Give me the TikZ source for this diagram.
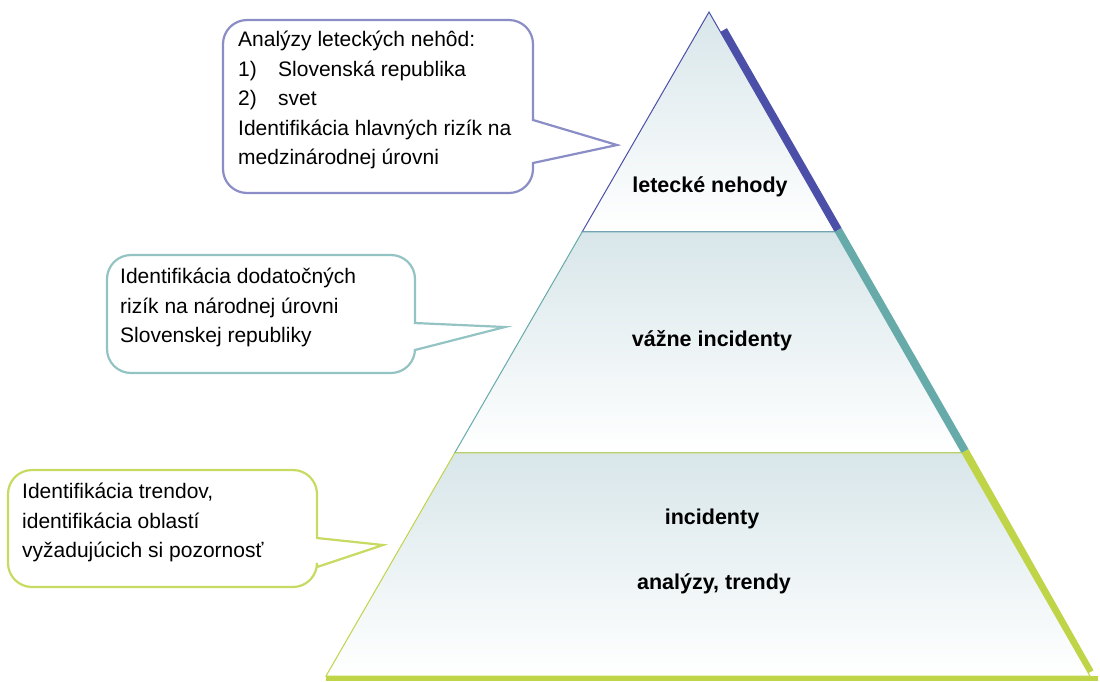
\documentclass[tikz,border=0pt]{standalone}
\usepackage{fontspec}
\setmainfont{Liberation Sans}
\usetikzlibrary{calc}
\definecolor{pyblue}{RGB}{75,79,168}
\definecolor{pyteal}{RGB}{102,170,170}
\definecolor{pylime}{RGB}{192,212,72}
\definecolor{pyfill}{RGB}{216,230,234}

\begin{document}
\begin{tikzpicture}[x=1pt,y=-1pt,
  note/.style={align=left,anchor=north west,inner sep=0pt,font=\fontsize{21}{29.5}\selectfont},
  level/.style={inner sep=1pt,font=\bfseries\fontsize{21.5}{24}\selectfont},
  bubble/.style={line width=2.2pt,fill=white},
  shadowline/.style={line width=15pt},
  section/.style={top color=pyfill,bottom color=white,line width=1pt}]
\useasboundingbox (0,0) rectangle (1100,681);
% pyramid corners and dividers
\coordinate (A) at (709,12);
\coordinate (L) at (326,676);
\coordinate (R) at (1090,676);
\coordinate (L1) at ($(A)!.331!(L)$);
\coordinate (R1) at ($(A)!.331!(R)$);
\coordinate (L2) at ($(A)!.664!(L)$);
\coordinate (R2) at ($(A)!.664!(R)$);
% thick edges behind the pyramid
\begin{scope}[shift={(11,3)}]
  \draw[shadowline,pyblue] ($(A)!.03!(R)$) -- (R1);
  \draw[shadowline,pyteal] (R1) -- (R2);
  \draw[shadowline,pylime] (R2) -- ($(R)+(-3,-2)$);
\end{scope}
\draw[pylime,line width=5pt] ($(L)+(0,2)$) -- ($(R)+(8,2)$);
% the three levels
\draw[section,pyblue] (A) -- (R1) -- (L1) -- cycle;
\draw[section,pyteal] (L1) -- (R1) -- (R2) -- (L2) -- cycle;
\draw[section,pylime] (L2) -- (R2) -- (R) -- (L) -- cycle;
\node[level] (lvtop) at (710,187) {letecké nehody};
\node[level] (lvmid) at (712,341) {vážne incidenty};
\node[level] (lvbot) at (712,519) {incidenty};
\node[level] (lvnote) at (714,584) {analýzy, trendy};
% callouts
\draw[bubble,draw=pyblue!65] (380,20) [rounded corners=24pt] -- (533,20) [sharp corners] -- (533,120)
  -- (617,145) -- (533,163) [rounded corners=24pt] -- (533,193) -- (223,193) -- (223,20) -- cycle;
\node[note] (ntop) at (238,31) {Analýzy leteckých nehôd:\\
  \makebox[40pt][l]{1)}Slovenská republika\\
  \makebox[40pt][l]{2)}svet\\
  Identifikácia hlavných rizík na\\
  medzinárodnej úrovni};
\draw[bubble,draw=pyteal!70] (260,255) [rounded corners=24pt] -- (415,255) [sharp corners] -- (415,323)
  -- (505,327) -- (415,350) [rounded corners=24pt] -- (415,373) -- (107,373) -- (107,255) -- cycle;
\node[note] (nmid) at (120,268) {Identifikácia dodatočných\\
  rizík na národnej úrovni\\
  Slovenskej republiky};
\draw[bubble,draw=pylime!85] (160,470) [rounded corners=24pt] -- (317,470) [sharp corners] -- (317,538)
  -- (383,545) -- (317,567) [rounded corners=24pt] -- (317,587) -- (8,587) -- (8,470) -- cycle;
\node[note] (nbot) at (22,483) {Identifikácia trendov,\\
  identifikácia oblastí\\
  vyžadujúcich si pozornosť};
\end{tikzpicture}
\end{document}
